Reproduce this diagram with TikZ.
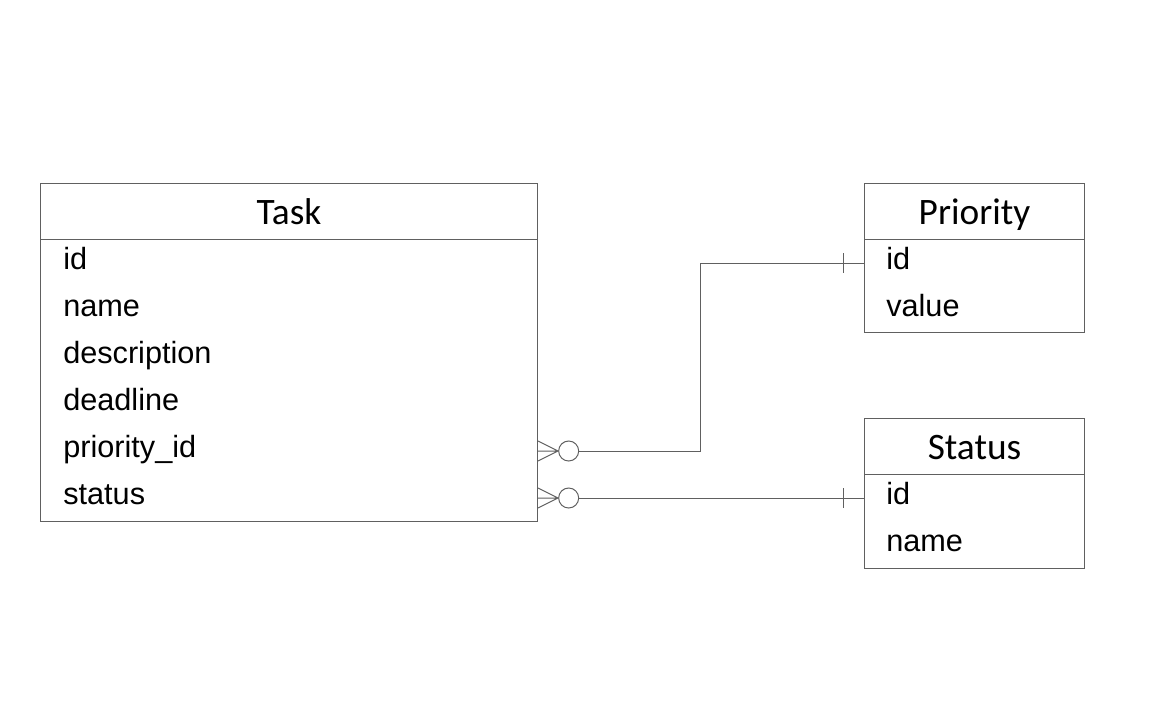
\documentclass[tikz,border=0pt]{standalone}
\usepackage{fontspec}
\setmainfont{Liberation Sans}
\newfontfamily\titlefont{Carlito}
\usepackage{tikz}
\usetikzlibrary{positioning}
\definecolor{erline}{RGB}{96,96,96}

\tikzset{
  entity/.style={draw=erline,line width=0.75pt,inner sep=0pt,anchor=north west},
  title/.style={font=\titlefont\fontsize{28}{31}\selectfont,text height=26pt,text depth=6.5pt,
    inner sep=0pt,minimum height=42pt,anchor=north},
  field/.style={font=\fontsize{23}{26}\selectfont,text height=17pt,text depth=8pt,
    inner sep=0pt,anchor=west},
  rel/.style={draw=erline,line width=0.75pt}
}

\begin{document}
\begin{tikzpicture}[x=0.75pt,y=-0.75pt]
  \useasboundingbox (0,0) rectangle (1168,715);

  % tables
  \node[entity,minimum width=372.75pt,minimum height=253.5pt] (task) at (40,183) {};
  \node[entity,minimum width=165pt,minimum height=111.75pt] (priority) at (864,183) {};
  \node[entity,minimum width=165pt,minimum height=112.5pt] (status) at (864,418) {};

  \node[title,minimum width=372.75pt] (tasktitle) at (task.north) {Task};
  \node[title,minimum width=165pt] (priotitle) at (priority.north) {Priority};
  \node[title,minimum width=165pt] (stattitle) at (status.north) {Status};
  \draw[rel] (tasktitle.south west) -- (tasktitle.south east);
  \draw[rel] (priotitle.south west) -- (priotitle.south east);
  \draw[rel] (stattitle.south west) -- (stattitle.south east);

  % columns
  \node[field] (taskid) at (63,263) {id};
  \node[field] (taskname) at (63,310) {name};
  \node[field] (taskdesc) at (63,357) {description};
  \node[field] (taskdead) at (63,404) {deadline};
  \node[field] (taskprio) at (63,451) {priority\_id};
  \node[field] (taskstat) at (63,498) {status};

  \node[field] (prioid) at (886,263) {id};
  \node[field] (prioval) at (886,310) {value};

  \node[field] (statid) at (886,498) {id};
  \node[field] (statname) at (886,545) {name};

  % relations
  \coordinate (fp) at (task.east |- taskprio);
  \coordinate (fs) at (task.east |- taskstat);
  \coordinate (tp) at (priority.west |- prioid);
  \coordinate (ts) at (status.west |- statid);
  \coordinate (bend) at (700,0);

  \draw[rel] ([yshift=7.5pt]fp) -- ([xshift=15pt]fp) -- ([yshift=-7.5pt]fp)
    (fp) -- ([xshift=15pt]fp);
  \draw[rel] ([xshift=23pt]fp) circle[radius=7.5pt];
  \draw[rel] ([xshift=30.5pt]fp) -- (bend |- fp) -- (bend |- tp) -- (tp);
  \draw[rel] ([xshift=-15.75pt,yshift=7.5pt]tp) -- ([xshift=-15.75pt,yshift=-7.5pt]tp);

  \draw[rel] ([yshift=7.5pt]fs) -- ([xshift=15pt]fs) -- ([yshift=-7.5pt]fs)
    (fs) -- ([xshift=15pt]fs);
  \draw[rel] ([xshift=23pt]fs) circle[radius=7.5pt];
  \draw[rel] ([xshift=30.5pt]fs) -- (ts);
  \draw[rel] ([xshift=-15.75pt,yshift=7.5pt]ts) -- ([xshift=-15.75pt,yshift=-7.5pt]ts);
\end{tikzpicture}
\end{document}
